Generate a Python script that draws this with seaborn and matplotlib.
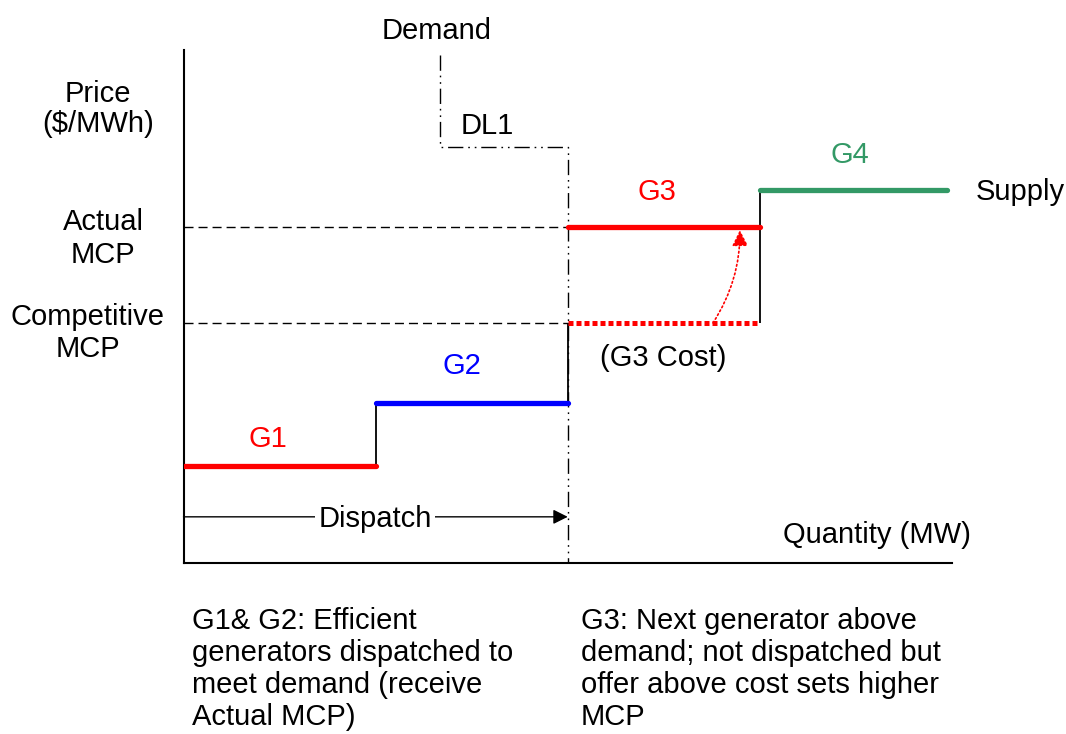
import numpy as np
import pandas as pd
import matplotlib
matplotlib.use("Agg")
import matplotlib.pyplot as plt
import seaborn as sns

# ---------------- data ----------------
gens = ["G1", "G2", "G3", "G4"]
q_start = [0, 25, 50, 75]
q_end = [25, 50, 75, 99.4]
offer = [19.0, 31.2, 65.5, 72.7]
gen_colors = {"G1": "#ff0000", "G2": "#0000ff", "G3": "#ff0000", "G4": "#339966"}

g3_cost = 46.8          # competitive MCP
actual_mcp = 65.5
demand_q = 50           # DL1 quantity
demand_step_q = 33.4
demand_price = 81.1
demand_top = 99
dispatch_price = 9.0

# ---------------- figure ----------------
sns.set_style("white")
plt.rcParams['font.family'] = ['Liberation Sans', 'DejaVu Sans']
plt.rcParams['text.color'] = 'black'

W, H = 1066, 734
fig = plt.figure(figsize=(W / 100, H / 100), dpi=100)
ax = fig.add_axes([183.5 / W, 1 - 563 / H, (952 - 183.5) / W, (563 - 50) / H])
ax.set_xlim(0, 100)
ax.set_ylim(0, 100)
ax.set_xticks([])
ax.set_yticks([])
for s in ["top", "right"]:
    ax.spines[s].set_visible(False)
for s in ["left", "bottom"]:
    ax.spines[s].set_color("black")
    ax.spines[s].set_linewidth(1.5)

# reference price lines
for p in [actual_mcp, g3_cost]:
    ax.plot([0, demand_q], [p, p], color="black", lw=1,
            linestyle=(0, (6.5, 3.6)), zorder=1)

# demand curve (dash-dot-dot)
ax.plot([demand_step_q, demand_step_q, demand_q, demand_q],
        [demand_top, demand_price, demand_price, 0],
        color="black", lw=1, linestyle=(0, (11, 3.5, 1.2, 3.5, 1.2, 3.5)), zorder=1)

# vertical supply connectors
vx = q_start[1:]
vlow = [offer[0], offer[1], g3_cost]
vhigh = [offer[1], g3_cost, offer[3]]
ax.vlines(vx, vlow, vhigh, color="black", lw=1.3, zorder=2)

# generator offers
seg = pd.DataFrame({
    "gen": np.repeat(gens, 2),
    "q": np.ravel(np.column_stack([q_start, q_end])),
    "price": np.repeat(offer, 2),
})
sns.lineplot(data=seg, x="q", y="price", hue="gen", units="gen", estimator=None,
             sort=False, palette=gen_colors, lw=3.8, legend=False, ax=ax, zorder=3)

# G3 cost (dotted)
ax.plot([q_start[2], q_end[2]], [g3_cost, g3_cost], color="#ff0000", lw=3.6,
        linestyle=(0, (1, 0.6)), dash_capstyle="butt", zorder=3)

# curved arrow from cost to offer
ax.annotate("", xy=(72.4, actual_mcp - 0.6), xytext=(68.9, g3_cost),
            arrowprops=dict(arrowstyle="-|>", color="#ff0000", lw=1.2, ls=":",
                            connectionstyle="arc3,rad=0.15", mutation_scale=24,
                            shrinkA=0, shrinkB=0), zorder=4)

# dispatch arrow
ax.annotate("", xy=(demand_q, dispatch_price), xytext=(0, dispatch_price),
            arrowprops=dict(arrowstyle="-|>", color="black", lw=1,
                            mutation_scale=22, shrinkA=0, shrinkB=0), zorder=4)
ax.set_xlabel("")
ax.set_ylabel("")


def ftxt(x, y, s, **kw):
    kw.setdefault("ha", "center")
    kw.setdefault("color", "black")
    fig.text(x / W, 1 - y / H, s, fontsize=21, va="baseline", **kw)


ftxt(437, 39, "Demand")
ftxt(487, 134, "DL1")
ftxt(98, 102, "Price")
ftxt(98, 132, "($/MWh)")
ftxt(103, 230, "Actual")
ftxt(103, 263, "MCP")
ftxt(88, 325, "Competitive")
ftxt(88, 357, "MCP")
ftxt(268, 447, "G1", color=gen_colors["G1"])
ftxt(462, 374, "G2", color=gen_colors["G2"])
ftxt(657, 200, "G3", color=gen_colors["G3"])
ftxt(850, 163, "G4", color=gen_colors["G4"])
ftxt(1020, 200, "Supply")
ftxt(663, 366, "(G3 Cost)")
ftxt(877, 543, "Quantity (MW)")
fig.text(375 / W, 1 - 527 / H, "Dispatch", fontsize=21, va="baseline", ha="center",
         color="black", bbox=dict(facecolor="white", edgecolor="none", pad=2), zorder=5)

left_note = ["G1& G2: Efficient", "generators dispatched to",
             "meet demand (receive", "Actual MCP)"]
right_note = ["G3: Next generator above", "demand; not dispatched but",
              "offer above cost sets higher", "MCP"]
for i, (a, b) in enumerate(zip(left_note, right_note)):
    ftxt(192, 629 + 32 * i, a, ha="left")
    ftxt(581, 629 + 32 * i, b, ha="left")

fig.savefig("out.png", dpi=100, facecolor="white")
